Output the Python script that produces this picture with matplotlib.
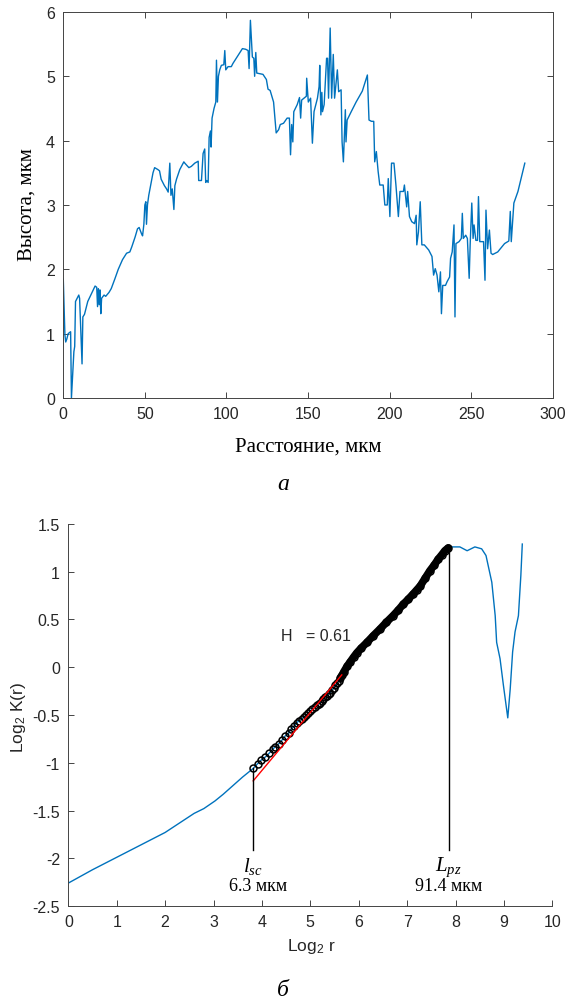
import matplotlib
matplotlib.use("Agg")
import matplotlib.pyplot as plt

plt.rcParams['font.family'] = ['Liberation Sans', 'DejaVu Sans']
plt.rcParams['axes.unicode_minus'] = False
plt.rcParams['mathtext.fontset'] = 'custom'
plt.rcParams['mathtext.rm'] = 'Liberation Sans'
plt.rcParams['mathtext.it'] = 'Liberation Serif:italic'

# --- profile (a) ---
dist = [0, 1, 1.5, 2.2, 3, 4.5, 5, 6.5, 7, 7.5, 9.5, 10, 10.5, 11.5, 12, 13, 15,
        18, 19.5, 20.5, 21, 21.5, 22, 22.5, 23, 23.5, 25, 26, 28, 29.4, 31.6,
        33.7, 36.3, 38.8, 40.8, 42, 44, 45.5, 46.5, 48, 48.6, 49.4, 50, 50.6,
        51, 51.6, 52.4, 53.5, 55, 56, 58, 59, 60, 62, 63.3, 64.3, 65.3, 66,
        66.8, 67.8, 68.4, 69.4, 71.4, 73.9, 74.5, 77, 78.5, 80.6, 82.7, 83,
        84.7, 85.7, 86.7, 87.3, 88, 88.8, 89.4, 90.2, 90.6, 91.2, 92.4, 93.5,
        93.9, 94.5, 95.1, 95.9, 96.9, 98.4, 99, 99.6, 101, 103, 104, 107.8,
        109.8, 111.8, 113.3, 113.9, 114.7, 115.9, 116.8, 117.3, 118, 118.6,
        122.4, 124.5, 125.5, 126.8, 128.9, 130.5, 132, 133, 135, 137.2, 138.6,
        139.3, 140, 140.7, 141.3, 143.4, 144.8, 145.5, 146.1, 149, 149.2,
        150.2, 151.6, 152.7, 153.7, 155.8, 156.8, 157.2, 157.9, 158.5, 158.9,
        159.9, 161.4, 162, 162.6, 163.6, 164.5, 165.5, 166.3, 166.9, 168,
        168.8, 170.3, 170.9, 171.7, 172.9, 173.3, 174, 176.5, 179.5, 183.3,
        186.4, 187.4, 188.9, 190.3, 190.9, 191.9, 193, 194, 196.1, 197.1,
        198.6, 199.2, 200.2, 201.2, 202.7, 203.9, 205.4, 206.4, 208.5, 209.1,
        210.5, 211.1, 212.2, 213.6, 215.3, 216.3, 216.7, 217.7, 218.8, 219.8,
        221.3, 224, 226, 227, 228, 229.1, 230.2, 231.2, 231.8, 232.6, 234.3,
        235.3, 236.8, 237.4, 238.4, 239.5, 240.1, 240.7, 242.6, 244, 244.6,
        245.2, 246.7, 247.7, 248.8, 249.4, 250.4, 251.2, 251.8, 252.9, 253.9,
        254.5, 255.3, 257.6, 258.5, 259.1, 260.1, 261.2, 262.2, 263.2, 266.3,
        270.5, 273.1, 274, 274.6, 276.2, 278.7, 282.9]
height = [1.85, 0.98, 0.87, 0.92, 1.0, 1.03, 0.0, 0.72, 0.8, 1.5, 1.6, 1.55,
          1.2, 0.53, 1.26, 1.3, 1.5, 1.66, 1.74, 1.72, 1.42, 1.7, 1.45, 1.68,
          1.31, 1.55, 1.6, 1.58, 1.64, 1.7, 1.85, 2.0, 2.15, 2.25, 2.27, 2.35,
          2.5, 2.63, 2.65, 2.55, 2.52, 2.7, 3.0, 3.05, 2.7, 3.0, 3.15, 3.3,
          3.5, 3.58, 3.55, 3.53, 3.4, 3.3, 3.25, 3.2, 3.65, 3.15, 3.25, 2.93,
          3.3, 3.4, 3.55, 3.67, 3.65, 3.58, 3.6, 3.65, 3.68, 3.38, 3.38, 3.8,
          3.87, 3.35, 3.38, 3.35, 4.05, 4.15, 3.9, 4.35, 4.5, 4.6, 5.25, 4.6,
          5.0, 5.1, 5.17, 5.18, 5.4, 5.1, 5.15, 5.15, 5.2, 5.35, 5.43, 5.42,
          5.4, 5.12, 5.87, 5.3, 5.28, 5.0, 5.37, 5.05, 5.03, 4.95, 4.8, 4.78,
          4.6, 4.12, 4.17, 4.25, 4.27, 4.35, 4.35, 3.78, 4.25, 3.98, 4.45,
          4.56, 4.67, 4.35, 4.63, 4.69, 4.97, 4.6, 4.66, 3.96, 4.45, 4.66,
          4.84, 5.17, 4.4, 4.75, 4.45, 4.56, 5.28, 5.28, 4.66, 5.75, 4.66,
          5.34, 4.66, 4.82, 5.1, 4.76, 4.79, 3.98, 3.67, 4.48, 3.98, 4.32,
          4.45, 4.6, 4.77, 5.02, 4.32, 4.3, 4.3, 3.67, 3.83, 3.52, 3.31, 3.31,
          3.0, 3.0, 3.41, 2.82, 3.65, 3.65, 3.31, 2.82, 3.21, 3.21, 3.31, 2.97,
          3.21, 2.82, 2.74, 2.71, 2.84, 2.38, 2.58, 3.05, 2.38, 2.38, 2.3, 2.2,
          1.91, 2.01, 1.91, 1.65, 1.96, 1.31, 1.75, 1.75, 1.81, 1.88, 2.17,
          2.27, 2.69, 1.26, 2.4, 2.43, 2.48, 2.87, 2.48, 2.53, 2.48, 1.86,
          2.38, 3.03, 2.48, 2.69, 2.45, 2.45, 3.13, 2.43, 2.43, 1.83, 2.92,
          2.32, 2.61, 2.25, 2.23, 2.27, 2.4, 2.44, 2.9, 2.43, 3.03, 3.21, 3.65]

# --- correlation function (b) ---
low_x = [0, 0.5, 1, 1.5, 2, 2.3, 2.6, 2.8, 3.03, 3.2, 3.4, 3.6, 3.77]
low_y = [-2.26, -2.12, -1.99, -1.86, -1.73, -1.63, -1.53, -1.48, -1.40, -1.33,
         -1.24, -1.15, -1.08]
fit_x = [3.82, 3.91, 3.99, 4.07, 4.15, 4.22, 4.28, 4.35, 4.42, 4.48, 4.55,
         4.60, 4.66, 4.72, 4.77, 4.82, 4.87, 4.92, 4.96, 5.00, 5.04, 5.09,
         5.13, 5.17, 5.20, 5.24, 5.27, 5.31, 5.34, 5.38, 5.41, 5.45, 5.48,
         5.52, 5.55, 5.59, 5.62, 5.66, 5.69, 5.76, 5.83, 5.90, 5.96, 6.05,
         6.17, 6.30, 6.44, 6.57, 6.71, 6.82, 6.92, 7.02, 7.13, 7.20, 7.27,
         7.37, 7.47, 7.56, 7.64, 7.72, 7.78, 7.85]
fit_y = [-1.06, -1.01, -0.97, -0.94, -0.90, -0.86, -0.83, -0.80, -0.76, -0.72,
         -0.69, -0.65, -0.62, -0.58, -0.56, -0.54, -0.52, -0.50, -0.48, -0.46,
         -0.44, -0.42, -0.40, -0.38, -0.37, -0.35, -0.33, -0.31, -0.30, -0.28,
         -0.27, -0.24, -0.22, -0.19, -0.17, -0.14, -0.11, -0.08, -0.05, 0.01,
         0.06, 0.11, 0.15, 0.20, 0.26, 0.33, 0.40, 0.47, 0.54, 0.60, 0.66,
         0.71, 0.77, 0.81, 0.85, 0.93, 1.01, 1.07, 1.13, 1.18, 1.22, 1.25]
high_x = [7.89, 8.09, 8.24, 8.40, 8.54, 8.63, 8.75, 8.82, 8.85, 8.92, 8.99,
          9.08, 9.13, 9.18, 9.23, 9.30, 9.35, 9.38]
high_y = [1.26, 1.26, 1.22, 1.26, 1.24, 1.17, 0.89, 0.54, 0.26, 0.09, -0.19,
          -0.53, -0.23, 0.16, 0.37, 0.54, 0.96, 1.29]
line_x = [3.82, 5.65]
line_y = [-1.19, -0.08]
l_sc, l_pz = 3.82, 7.86
marker_bottom = -1.91
h_value = 0.61

blue = '#0072BD'
dark = '#262626'

fig = plt.figure(figsize=(5.66, 10.04), dpi=100)

ax1 = fig.add_axes([0.1118, 0.6026, 0.8647, 0.3845])
ax1.plot(dist, height, color=blue, lw=1.0)
ax1.set_xlim(0, 300)
ax1.set_ylim(0, 6)
ax1.set_xticks(range(0, 301, 50))
ax1.set_yticks(range(0, 7))
ax1.tick_params(direction='in', length=4, top=True, right=True, labelsize=11.5,
                colors=dark, width=0.6, pad=6)
for s in ax1.spines.values():
    s.set_color('#444444')
    s.set_linewidth(0.7)

ax2 = fig.add_axes([0.1207, 0.0966, 0.8551, 0.3805])
ax2.plot(low_x + fit_x + high_x, low_y + fit_y + high_y, color=blue, lw=1.0)
dense = [i for i, v in enumerate(fit_x) if v >= 5.6]
ax2.plot([fit_x[i] for i in dense], [fit_y[i] for i in dense], color='k',
         lw=5.5, solid_capstyle='round')
ax2.plot(fit_x, fit_y, 'o', mfc='none', mec='k', ms=5.0, mew=1.1)
ax2.plot(line_x, line_y, color='red', lw=1.0)
ax2.plot([l_sc, l_sc], [marker_bottom, fit_y[0]], color='k', lw=1.0)
ax2.plot([l_pz, l_pz], [marker_bottom, fit_y[-1]], color='k', lw=1.0)
ax2.text(4.4, 0.33, f'H   = {h_value}', fontsize=11.5, color=dark,
         va='center', ha='left')
ax2.text(l_sc, -2.08, '$l_{sc}$', fontsize=15, ha='center', va='center')
ax2.text(3.93, -2.29, '6.3 мкм', family='Liberation Serif', fontsize=13,
         ha='center', va='center')
ax2.text(l_pz, -2.08, '$L_{pz}$', fontsize=15, ha='center', va='center')
ax2.text(l_pz, -2.29, '91.4 мкм', family='Liberation Serif', fontsize=13,
         ha='center', va='center')
ax2.set_xlim(0, 10)
ax2.set_ylim(-2.5, 1.5)
ax2.set_xticks(range(0, 11))
yt = [-2.5, -2, -1.5, -1, -0.5, 0, 0.5, 1, 1.5]
ax2.set_yticks(yt)
ax2.set_yticklabels([f'{v:g}' for v in yt])
ax2.spines['top'].set_visible(False)
ax2.spines['right'].set_visible(False)
ax2.tick_params(direction='in', length=4, labelsize=11.5, colors=dark,
                width=0.6, pad=6)
for s in ('left', 'bottom'):
    ax2.spines[s].set_color('#444444')
    ax2.spines[s].set_linewidth(0.7)

W, H = 566, 1004
fig.text(27 / W, 1 - 205 / H, 'Высота, мкм', family='Liberation Serif',
         fontsize=15, rotation=90, ha='center', va='center')
fig.text(308 / W, 1 - 447 / H, 'Расстояние, мкм', family='Liberation Serif',
         fontsize=15, ha='center', va='center')
fig.text(283 / W, 1 - 484 / H, 'а', family='Liberation Serif', style='italic',
         fontsize=17, ha='center', va='center')
fig.text(18 / W, 1 - 717 / H, 'Log$_2$ K(r)', fontsize=12.5, color=dark,
         rotation=90, ha='center', va='center')
fig.text(311 / W, 1 - 946 / H, 'Log$_2$ r', fontsize=12.5, color=dark,
         ha='center', va='center')
fig.text(283 / W, 1 - 991 / H, 'б', family='Liberation Serif', style='italic',
         fontsize=17, ha='center', va='center')

fig.savefig('out.png', dpi=100)
